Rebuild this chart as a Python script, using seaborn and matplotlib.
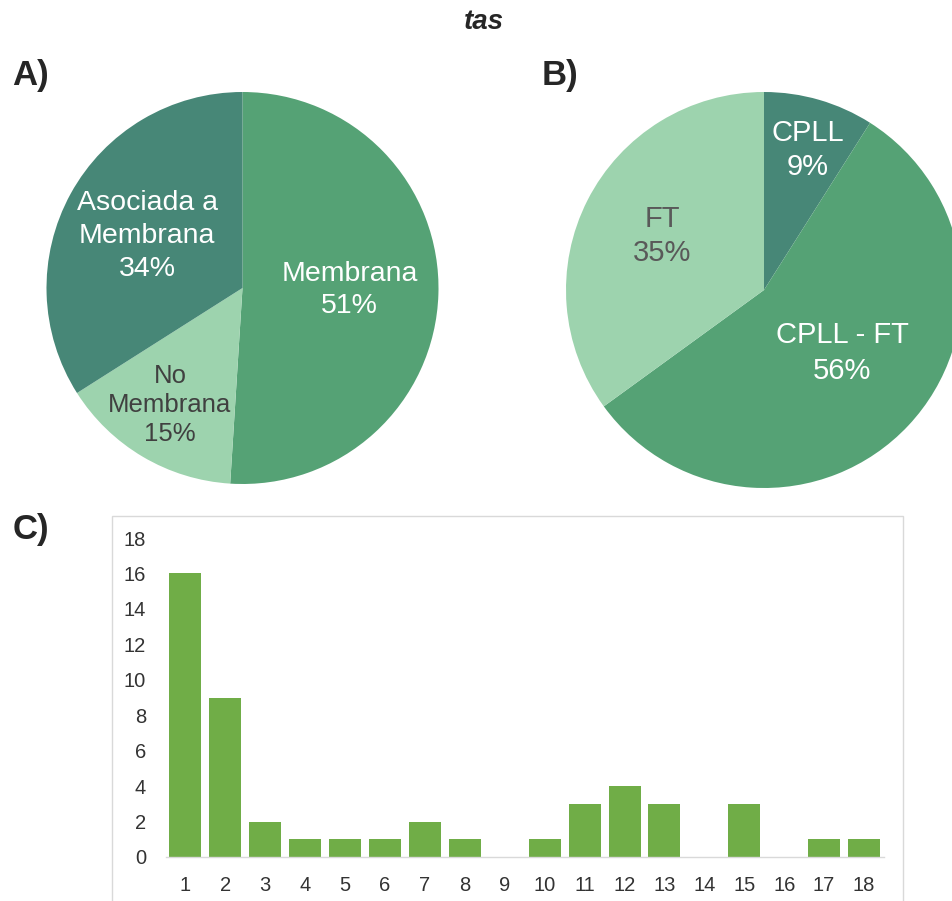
import matplotlib
matplotlib.use("Agg")
import matplotlib.pyplot as plt
from matplotlib.patches import Rectangle
import seaborn as sns
import pandas as pd

# ---- data ----
loc_labels = ["Membrana", "No\nMembrana", "Asociada a\nMembrana"]
loc_values = [51, 15, 34]

method_labels = ["CPLL", "CPLL - FT", "FT"]
method_values = [9, 56, 35]

bar_categories = [str(i) for i in range(1, 19)]
bar_values = [16, 9, 2, 1, 1, 1, 2, 1, 0, 1, 3, 4, 3, 0, 3, 0, 1, 1]
y_ticks = [0, 2, 4, 6, 8, 10, 12, 14, 16, 18]

# ---- style ----
sns.set_style("white")
plt.rcParams["font.family"] = ["Liberation Sans", "DejaVu Sans"]

DARK = "#478777"
MID = "#55A275"
LIGHT = "#9DD3AE"
BAR = "#70AD47"

W, H = 953, 901
fig = plt.figure(figsize=(W / 100, H / 100), dpi=100)


def px_axes(cx, cy, r):
    """Square axes centred on (cx, cy) in pixels (y measured from top)."""
    return fig.add_axes([(cx - r) / W, (H - cy - r) / H, 2 * r / W, 2 * r / H])


def draw_pie(ax, labels, values, colors, text_colors, offsets, sizes, spacings):
    ax.pie(values, colors=colors, startangle=90, counterclock=False,
           radius=1, wedgeprops=dict(linewidth=0))
    for lab, val, tc, (dx, dy), fs, ls in zip(labels, values, text_colors,
                                               offsets, sizes, spacings):
        ax.text(dx, dy, f"{lab}\n{val}%", ha="center", va="center",
                color=tc, fontsize=fs, linespacing=ls)
    ax.set_xlim(-1, 1)
    ax.set_ylim(-1, 1)
    ax.set_aspect("equal")
    ax.axis("off")


# ---- panel A ----
axA = px_axes(242.5, 288, 196)
draw_pie(axA, loc_labels, loc_values, [MID, LIGHT, DARK],
         ["white", "#404040", "white"],
         [(0.546, -0.01), (-0.37, -0.597), (-0.487, 0.265)],
         [20.5, 18.5, 20.5], [1.33, 1.25, 1.33])

# ---- panel B ----
axB = px_axes(764, 290, 198)
draw_pie(axB, method_labels, method_values, [DARK, MID, LIGHT],
         ["white", "white", "#595959"],
         [(0.22, 0.707), (0.394, -0.318), (-0.515, 0.273)],
         [21, 21, 21], [1.3, 1.35, 1.3])

# ---- panel C ----
df = pd.DataFrame({"cat": bar_categories, "n": bar_values})
axC = fig.add_axes([165.5 / W, (H - 857) / H, (884 - 165.5) / W, (857 - 538) / H])
sns.barplot(data=df, x="cat", y="n", order=bar_categories, color=BAR,
            saturation=1, width=0.8, ax=axC, edgecolor="none")
axC.set_xlim(-0.5, len(bar_categories) - 0.5)
axC.set_ylim(0, 18)
axC.set_yticks(y_ticks)
axC.set_xlabel("")
axC.set_ylabel("")
for s in ["top", "right", "left"]:
    axC.spines[s].set_visible(False)
axC.spines["bottom"].set_color("#d9d9d9")
axC.spines["bottom"].set_linewidth(1)
axC.tick_params(axis="y", length=0, pad=14, labelsize=14.5, labelcolor="#333333")
axC.tick_params(axis="x", length=0, pad=14, labelsize=14.5, labelcolor="#333333")
axC.set_facecolor("none")

# outer chart frame (open at the bottom edge of the figure)
fig.patches.append(Rectangle((112 / W, -0.05), (903 - 112) / W, (H - 516) / H + 0.05,
                             transform=fig.transFigure, fill=False,
                             edgecolor="#d9d9d9", linewidth=1, zorder=0))

# ---- panel letters and title ----
letter_kw = dict(fontsize=25, fontweight="bold", ha="center", va="center",
                 family=["Liberation Sans Narrow", "Liberation Sans"])
fig.text(31 / W, 1 - 75 / H, "A)", **letter_kw)
fig.text(560 / W, 1 - 75 / H, "B)", **letter_kw)
fig.text(31 / W, 1 - 530 / H, "C)", **letter_kw)
fig.text(484 / W, 1 - 22 / H, "tas", fontsize=20, fontweight="bold",
         fontstyle="italic", ha="center", va="center")

fig.savefig("out.png", dpi=100)
